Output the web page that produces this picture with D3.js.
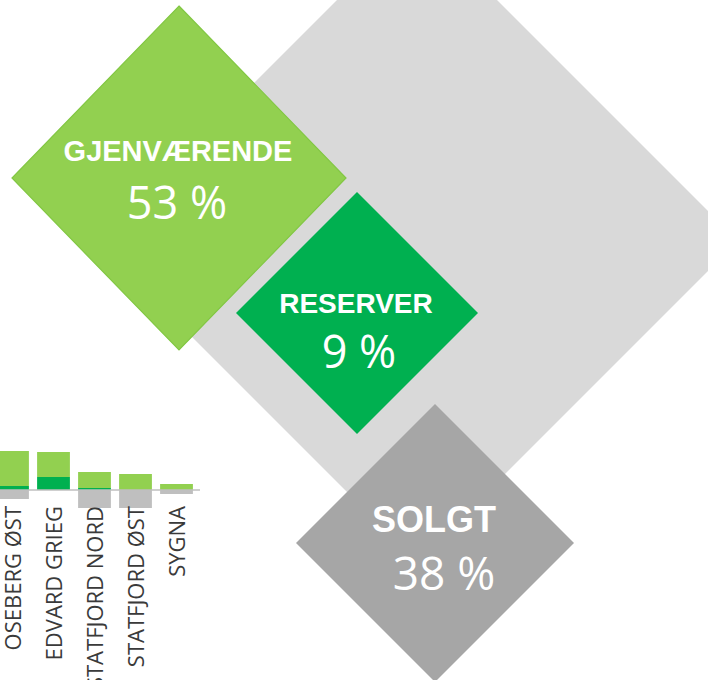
<!DOCTYPE html>
<html>
<head>
<meta charset="utf-8">
<script src="https://cdn.jsdelivr.net/npm/d3@7"></script>
<style>
  body { margin: 0; background: #fff; overflow: hidden; }
</style>
</head>
<body>
<div id="chart-area"></div>
<script>
(function () {
  // Share of resources (diamonds)
  const shareLabels = ["GJENVÆRENDE", "RESERVER", "SOLGT"];
  const sharePct = [53, 9, 38];

  // Small bar chart per field
  const fields = ["OSEBERG ØST", "EDVARD GRIEG", "STATFJORD NORD", "STATFJORD ØST", "SYGNA"];
  const reserver = [4, 13, 2, 0, 0];
  const gjenvaerende = [35, 25, 16, 16, 6];
  const solgt = [9, 0, 18, 18, 4];

  const width = 708;
  const height = 680;

  const svg = d3.select("#chart-area")
    .append("svg")
    .attr("width", width)
    .attr("height", height);

  // Diamond layout (position, size, colour, text offsets)
  const diamondLayout = [
    { cx: 179, cy: 178, rx: 167, ry: 172, fill: "#92d050", stroke: "#82c743", titleY: -17, valueY: 41, valueDx: -2, titleSize: 29, valueSize: 45 },
    { cx: 357, cy: 313, rx: 121, ry: 121, fill: "#00b050", stroke: "none", titleY: 0, valueY: 55, valueDx: 2, titleSize: 28, valueSize: 45 },
    { cx: 435, cy: 543, rx: 139, ry: 139, fill: "#a6a6a6", stroke: "none", titleY: -11, valueY: 47, valueDx: 9, titleSize: 36, valueSize: 46 }
  ];

  const diamondPath = (cx, cy, rx, ry) =>
    `M${cx},${cy - ry}L${cx + rx},${cy}L${cx},${cy + ry}L${cx - rx},${cy}Z`;

  // Big light grey backdrop diamond
  svg.append("path")
    .attr("d", diamondPath(417, 241, 321, 321))
    .attr("fill", "#d9d9d9");

  const diamonds = shareLabels.map((label, i) => ({
    label,
    pct: sharePct[i],
    ...diamondLayout[i]
  }));

  const g = svg.selectAll(".share")
    .data(diamonds)
    .enter()
    .append("g")
    .attr("class", "share");

  g.append("path")
    .attr("d", (d) => diamondPath(d.cx, d.cy, d.rx, d.ry))
    .attr("fill", (d) => d.fill)
    .attr("stroke", (d) => d.stroke)
    .attr("stroke-width", 1.2);

  g.append("text")
    .attr("x", (d) => d.cx - 1)
    .attr("y", (d) => d.cy + d.titleY)
    .attr("text-anchor", "middle")
    .attr("fill", "#fff")
    .attr("font-family", "Liberation Sans, Arial, sans-serif")
    .attr("font-weight", "bold")
    .attr("font-size", (d) => d.titleSize)
    .text((d) => d.label);

  g.append("text")
    .attr("x", (d) => d.cx + d.valueDx)
    .attr("y", (d) => d.cy + d.valueY)
    .attr("text-anchor", "middle")
    .attr("fill", "#fff")
    .attr("font-family", "Open Sans, sans-serif")
    .attr("font-size", (d) => d.valueSize)
    .text((d) => `${d.pct} %`);

  // Bar chart, bottom left
  const xScale = d3.scaleBand()
    .domain(fields)
    .range([-8, 197])
    .paddingInner(0.2)
    .paddingOuter(0.1);

  const yScale = d3.scaleLinear()
    .domain([-20, 40])
    .range([510, 450]);

  const bars = fields.map((f, i) => ({
    field: f,
    reserver: reserver[i],
    gjen: gjenvaerende[i],
    solgt: solgt[i]
  }));

  const chart = svg.append("g").attr("class", "fields");

  // sold part below the axis
  chart.selectAll(".bar-solgt")
    .data(bars)
    .enter()
    .append("rect")
    .attr("class", "bar-solgt")
    .attr("x", (d) => xScale(d.field))
    .attr("y", yScale(0))
    .attr("width", xScale.bandwidth())
    .attr("height", (d) => yScale(-d.solgt) - yScale(0))
    .attr("fill", "#bfbfbf");

  // reserves (dark green) at the bottom of the stack
  chart.selectAll(".bar-res")
    .data(bars)
    .enter()
    .append("rect")
    .attr("class", "bar-res")
    .attr("x", (d) => xScale(d.field))
    .attr("y", (d) => yScale(d.reserver))
    .attr("width", xScale.bandwidth())
    .attr("height", (d) => yScale(0) - yScale(d.reserver))
    .attr("fill", "#00b050");

  // remaining (light green) on top
  chart.selectAll(".bar-gjen")
    .data(bars)
    .enter()
    .append("rect")
    .attr("class", "bar-gjen")
    .attr("x", (d) => xScale(d.field))
    .attr("y", (d) => yScale(d.reserver + d.gjen))
    .attr("width", xScale.bandwidth())
    .attr("height", (d) => yScale(d.reserver) - yScale(d.reserver + d.gjen))
    .attr("fill", "#92d050");

  // zero line
  chart.append("line")
    .attr("x1", 0)
    .attr("x2", 200)
    .attr("y1", yScale(0))
    .attr("y2", yScale(0))
    .attr("stroke", "#bfbfbf")
    .attr("stroke-width", 1.5);

  // rotated field names
  chart.selectAll(".field-label")
    .data(fields)
    .enter()
    .append("text")
    .attr("class", "field-label")
    .attr("transform", (d) => `translate(${xScale(d) + xScale.bandwidth() / 2 + 1},506) rotate(-90)`)
    .attr("dy", "0.36em")
    .attr("text-anchor", "end")
    .attr("fill", "#3a3a3a")
    .attr("font-family", "Open Sans, sans-serif")
    .attr("font-size", 22)
    .text((d) => d);
})();
</script>
</body>
</html>
